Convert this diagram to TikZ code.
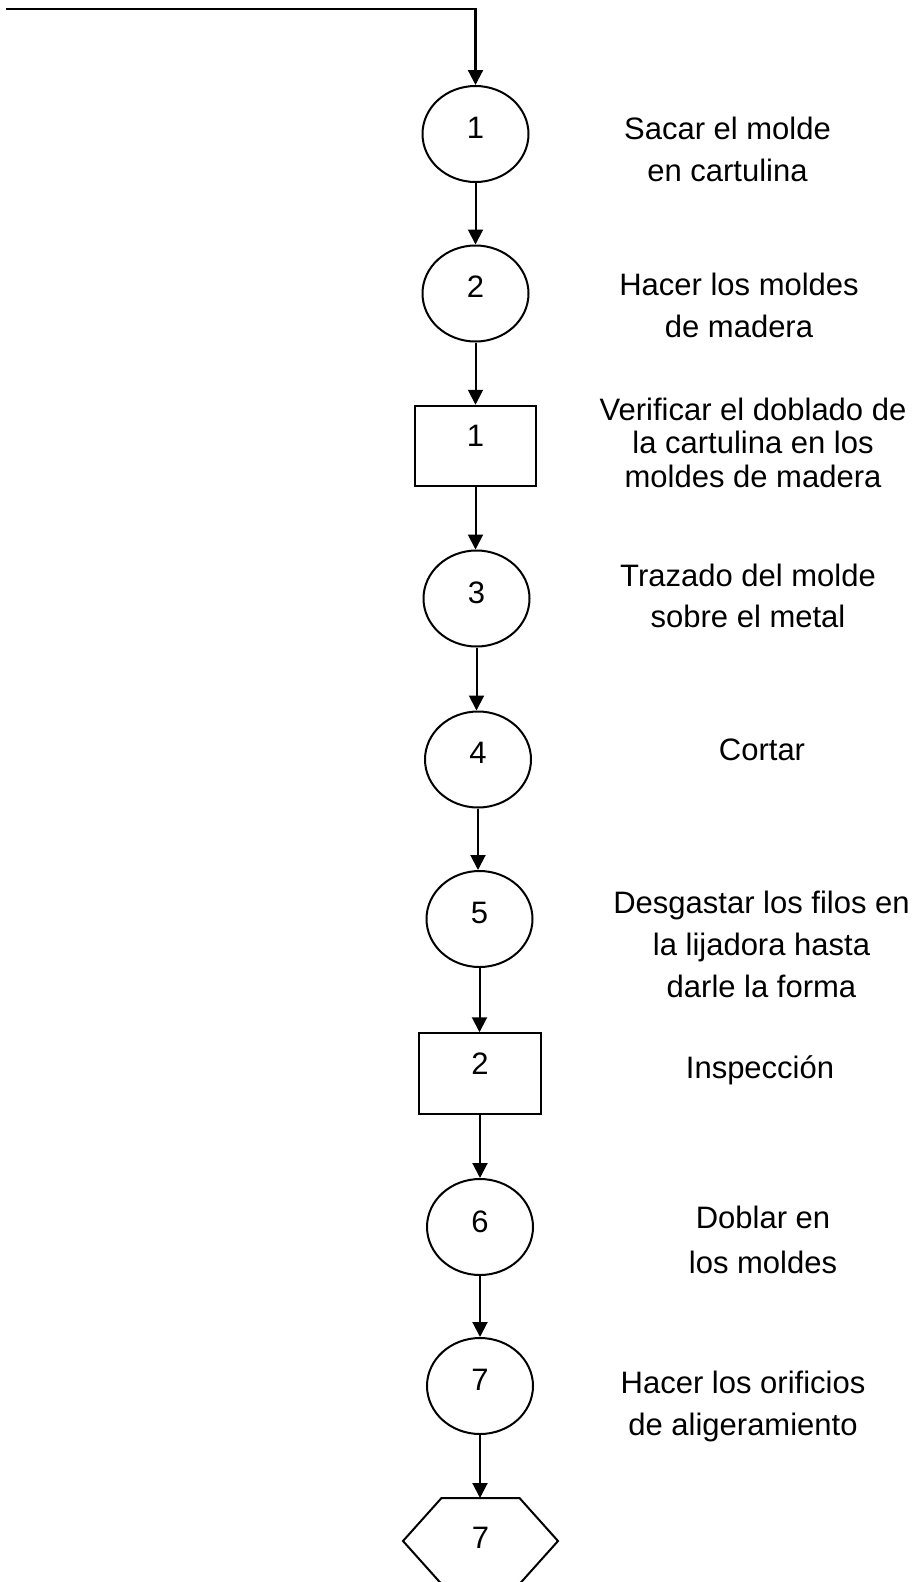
\documentclass[tikz,border=0pt]{standalone}
\usepackage{fontspec}
\setmainfont{Liberation Sans}
\usetikzlibrary{arrows.meta,shapes.geometric,calc}
\begin{document}
\begin{tikzpicture}[x=1pt,y=-1pt,
  ln/.style={line width=2pt},
  arr/.style={ln,-{Triangle[width=15pt,length=15pt]}},
  opcirc/.style={ellipse,draw,line width=2pt,minimum width=106pt,minimum height=96pt,inner sep=0pt,
    font=\fontsize{31}{37}\selectfont},
  inspbox/.style={rectangle,draw,line width=2pt,minimum width=121.5pt,minimum height=80.5pt,inner sep=0pt,
    font=\fontsize{31}{37}\selectfont},
  hexnode/.style={rectangle,draw=none,minimum width=155pt,minimum height=86pt,inner sep=0pt,outer sep=0pt,
    font=\fontsize{31}{37}\selectfont},
  lbl/.style={align=center,anchor=base,inner sep=0pt}
]
\useasboundingbox (0,0) rectangle (921,1582);

% shapes
\node[opcirc,text depth=13pt] (c1) at (475.5,134) {1};
\node[opcirc,text depth=13pt] (c2) at (475.5,293.5) {2};
\node[inspbox,text depth=21pt] (r1) at (475.5,446) {1};
\node[opcirc,text depth=11pt] (c3) at (476.5,598.5) {3};
\node[opcirc,text depth=13pt] (c4) at (478,759.5) {4};
\node[opcirc,text depth=12pt] (c5) at (479.5,919) {5};
\node[inspbox,text depth=20pt] (r2) at (480,1073.5) {2};
\node[opcirc,text depth=10pt] (c6) at (480,1227) {6};
\node[opcirc,text depth=12pt] (c7) at (480,1386) {7};
\node[hexnode,text depth=6pt] (hx) at (480.5,1541) {7};
\draw[ln,line join=miter] ($(hx.north west)+(38.5,0)$) -- ($(hx.north east)+(-38.5,0)$) -- (hx.east)
  -- ($(hx.south east)+(-38.5,0)$) -- ($(hx.south west)+(38.5,0)$) -- (hx.west) -- cycle;

% connectors
\coordinate (st) at (6,9);
\draw[arr,line width=2.2pt] (st) -| (c1.north);
\draw[arr] (c1.south) -- (c1.south |- c2.north);
\draw[arr] (c2.south) -- (c2.south |- r1.north);
\draw[arr] (r1.south) -- (r1.south |- c3.north);
\draw[arr] (c3.south) -- (c3.south |- c4.north);
\draw[arr] (c4.south) -- (c4.south |- c5.north);
\draw[arr] (c5.south) -- (c5.south |- r2.north);
\draw[arr] (r2.south) -- (r2.south |- c6.north);
\draw[arr] (c6.south) -- (c6.south |- c7.north);
\draw[arr] (c7.south) -- (c7.south |- hx.north);

% labels (anchor = baseline of the last line)
\node[lbl,font=\fontsize{31}{42}\selectfont] (t1) at (727.5,181) {Sacar el molde\\en cartulina};
\node[lbl,font=\fontsize{31}{42}\selectfont] (t2) at (739,337) {Hacer los moldes\\de madera};
\node[lbl,font=\fontsize{31}{33.5}\selectfont] (t3) at (753,487) {Verificar el doblado de\\la cartulina en los\\moldes de madera};
\node[lbl,font=\fontsize{31}{41.5}\selectfont] (t4) at (748,627.5) {Trazado del molde\\sobre el metal};
\node[lbl,font=\fontsize{31}{42}\selectfont] (t5) at (762,760.5) {Cortar};
\node[lbl,font=\fontsize{31}{42}\selectfont] (t6) at (761.5,997) {Desgastar los filos en\\la lijadora hasta\\darle la forma};
\node[lbl,font=\fontsize{31}{42}\selectfont] (t7) at (760,1078) {Inspección};
\node[lbl,font=\fontsize{31}{44.5}\selectfont] (t8) at (763,1273) {Doblar en\\los moldes};
\node[lbl,font=\fontsize{31}{42}\selectfont] (t9) at (743,1435) {Hacer los orificios\\de aligeramiento};
\end{tikzpicture}
\end{document}
